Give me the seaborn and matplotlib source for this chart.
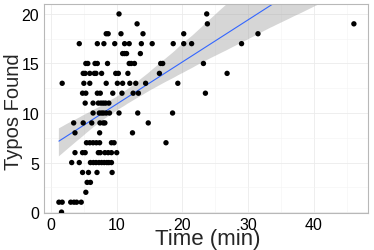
import numpy as np
import pandas as pd
import matplotlib
matplotlib.use("Agg")
import matplotlib.pyplot as plt
import seaborn as sns

# Typos found per row (y value) and times (min) of the points on that row
row_0 = [1.6]
row_1 = [1.2, 1.7, 3.0, 3.5, 3.9, 4.6]
row_2 = [5.3]
row_3 = [5.5, 6.0]
row_4 = [4.8, 5.7, 7.0, 9.3]
row_5 = [3.15, 4.3, 6.0, 6.45, 6.85, 7.3, 7.7, 8.1, 8.5, 8.8, 9.2]
row_6 = [3.65, 4.8, 5.2, 7.2, 7.5, 8.2, 8.7, 9.2, 10.0]
row_7 = [5.4, 5.9, 6.4, 6.9, 7.4, 9.2, 9.6, 17.5]
row_8 = [3.65, 7.4, 12.4]
row_9 = [3.45, 4.9, 6.2, 7.45, 7.95, 8.2, 14.8]
row_10 = [6.4, 7.35, 7.7, 8.0, 8.4, 8.9, 10.35, 13.2, 18.5]
row_11 = [5.2, 6.4, 7.2, 7.6, 7.95, 8.3, 8.8]
row_12 = [4.8, 5.3, 7.05, 7.5, 9.4, 10.8, 12.5, 13.3, 23.5]
row_13 = [1.7, 5.0, 5.9, 8.4, 10.1, 10.9, 12.0, 12.9, 14.4, 19.3]
row_14 = [4.9, 5.2, 5.9, 6.6, 6.85, 7.7, 9.85, 10.25, 11.7, 16.5, 26.8]
row_15 = [5.3, 5.6, 6.7, 7.05, 8.6, 11.9, 12.2, 12.7, 16.7, 17.0, 23.2]
row_16 = [10.9, 11.2, 11.5, 13.6]
row_17 = [4.3, 7.05, 8.05, 9.7, 11.2, 11.9, 13.75, 15.4, 18.6, 20.2, 21.4, 29.0]
row_18 = [8.4, 8.7, 10.65, 14.0, 20.2, 31.5]
row_19 = [13.1, 23.8, 46.1]
row_20 = [10.35, 23.7]

rows = [row_0, row_1, row_2, row_3, row_4, row_5, row_6, row_7, row_8, row_9,
        row_10, row_11, row_12, row_13, row_14, row_15, row_16, row_17,
        row_18, row_19, row_20]

x_ticks = [0, 10, 20, 30, 40]
y_ticks = [0, 5, 10, 15, 20]

times, typos = [], []
for v, r in enumerate(rows):
    for t in r:
        times.append(t)
        typos.append(v)
df = pd.DataFrame({"time": times, "typos": typos})

sns.set_style("white")
plt.rcParams["font.family"] = ["Liberation Sans", "DejaVu Sans"]

fig = plt.figure(figsize=(3.74, 2.51), dpi=100)
ax = fig.add_axes([0.1176, 0.149, 0.8664, 0.831])

sns.regplot(data=df, x="time", y="typos", ax=ax, scatter=False, ci=95,
            color="#3366FF", line_kws={"linewidth": 0.8})
# gray confidence band like ggplot
for coll in ax.collections:
    coll.set_facecolor("#999999")
    coll.set_alpha(0.4)
    coll.set_edgecolor("none")
sns.scatterplot(data=df, x="time", y="typos", ax=ax, color="black", s=15,
                edgecolor="none", linewidth=0, zorder=3)

ax.set_xlim(-1.07, 48.25)
ax.set_ylim(-0.05, 21.0)
ax.set_xticks(x_ticks)
ax.set_yticks(y_ticks)
ax.set_xticks([5, 15, 25, 35, 45], minor=True)
ax.set_yticks([2.5, 7.5, 12.5, 17.5], minor=True)
ax.grid(True, which="major", color="#ebebeb", linewidth=0.6)
ax.grid(True, which="minor", color="#f3f3f3", linewidth=0.4)
ax.set_axisbelow(True)
for s in ax.spines.values():
    s.set_color("#b8b8b8")
    s.set_linewidth(0.8)
ax.tick_params(axis="both", which="major", length=2.5, width=0.6, color="#b0b0b0",
               labelsize=11.5, labelcolor="black", pad=1.0)
ax.tick_params(axis="both", which="minor", length=0)

ax.set_xlabel("Time (min)", fontsize=16)
ax.set_ylabel("Typos Found", fontsize=14.5)
ax.xaxis.set_label_coords(0.506, -0.072)
ax.yaxis.set_label_coords(-0.066, 0.49)

fig.savefig("out.png", dpi=100)
